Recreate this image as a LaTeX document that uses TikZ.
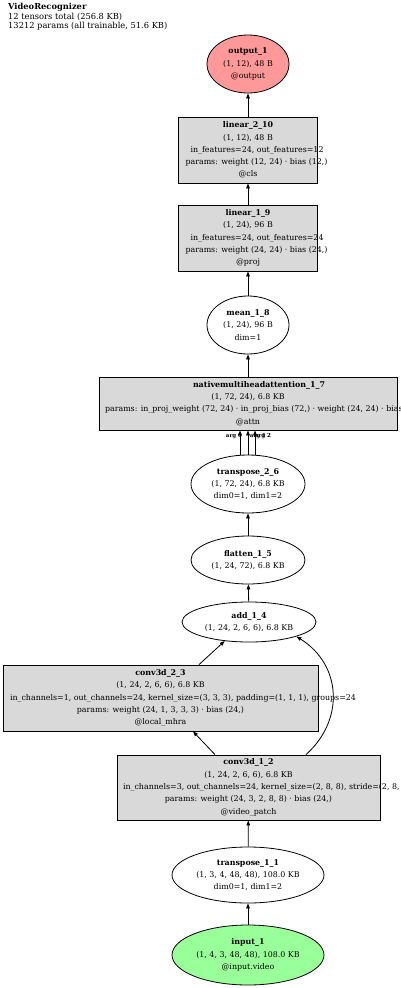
\documentclass[tikz,border=0pt]{standalone}
\usepackage{fontspec}
\setmainfont{DejaVu Serif}
\usetikzlibrary{arrows.meta,shapes.geometric}
\definecolor{outpink}{RGB}{255,153,153}
\definecolor{ingreen}{RGB}{153,255,153}
\definecolor{opgray}{RGB}{217,217,217}
\newcommand\spill[2]{\makebox[0pt][l]{\hspace*{-#1pt}#2}}

\begin{document}
\begin{tikzpicture}[x = 1pt, y = -1pt,
    font = \fontsize{7.9}{12.3}\selectfont,
    every label/.style = {align = center},
    oval/.style = {ellipse, draw, line width = .8pt, inner sep = 0pt},
    opbox/.style = {rectangle, draw, fill = opgray, line width = .8pt, inner sep = 0pt},
    flow/.style = {-{Triangle[length = 5pt, width = 3.6pt]}, line width = .8pt},
    argtag/.style = {font = \fontsize{5.5}{6}\selectfont\bfseries, inner sep = 0pt}]
  \clip (0,0) rectangle (400,988);
  \node [anchor = north west, align = left, inner sep = 0pt,
         font = \fontsize{8.3}{9.6}\selectfont] (title) at (8,3)
    {\textbf{VideoRecognizer}\\12 tensors total (256.8 KB)\\13212 params (all trainable, 51.6 KB)};

  % graph nodes, top to bottom
  \node [oval, fill = outpink, minimum width = 82pt, minimum height = 58pt,
         label = center:{\textbf{output\_1}\\(1, 12), 48 B\\@output}] (out1) at (248,64) {};
  \node [opbox, minimum width = 139pt, minimum height = 66pt,
         label = center:{\textbf{linear\_2\_10}\\(1, 12), 48 B\\
           \spill{57.5}{in\_features=24, out\_features=12}\\
           \spill{62.5}{params: weight (12, 24) · bias (12,)}\\@cls}] (lin210) at (248,150) {};
  \node [opbox, minimum width = 139pt, minimum height = 66pt,
         label = center:{\textbf{linear\_1\_9}\\(1, 24), 96 B\\
           \spill{57.5}{in\_features=24, out\_features=24}\\
           \spill{62.5}{params: weight (24, 24) · bias (24,)}\\@proj}] (lin19) at (248,238) {};
  \node [oval, minimum width = 82pt, minimum height = 58pt,
         label = center:{\textbf{mean\_1\_8}\\(1, 24), 96 B\\dim=1}] (mean18) at (248,325) {};
  \node [opbox, minimum width = 298pt, minimum height = 53pt,
         label = center:{\spill{55}{\textbf{nativemultiheadattention\_1\_7}}\\(1, 72, 24), 6.8 KB\\
           \spill{143}{params: in\_proj\_weight (72, 24) · in\_proj\_bias (72,) · weight (24, 24) · bias (24,)}\\@attn}]
    (mha17) at (248,403.5) {};
  \node [oval, minimum width = 114pt, minimum height = 58pt,
         label = center:{\textbf{transpose\_2\_6}\\(1, 72, 24), 6.8 KB\\dim0=1, dim1=2}] (tr26) at (248,484) {};
  \node [oval, minimum width = 114pt, minimum height = 48pt,
         label = center:{\textbf{flatten\_1\_5}\\(1, 24, 72), 6.8 KB}] (fl15) at (248,560) {};
  \node [oval, minimum width = 134pt, minimum height = 40pt,
         label = center:{\textbf{add\_1\_4}\\(1, 24, 2, 6, 6), 6.8 KB}] (add14) at (249,622) {};
  \node [opbox, minimum width = 315pt, minimum height = 66pt,
         label = center:{\textbf{conv3d\_2\_3}\\(1, 24, 2, 6, 6), 6.8 KB\\
           \spill{150.5}{in\_channels=1, out\_channels=24, kernel\_size=(3, 3, 3), padding=(1, 1, 1), groups=24}\\
           params: weight (24, 1, 3, 3, 3) · bias (24,)\\@local\_mhra}] (cv23) at (160.5,698) {};
  \node [opbox, minimum width = 263pt, minimum height = 65pt,
         label = center:{\textbf{conv3d\_1\_2}\\(1, 24, 2, 6, 6), 6.8 KB\\
           \spill{125.5}{in\_channels=3, out\_channels=24, kernel\_size=(2, 8, 8), stride=(2, 8, 8)}\\
           params: weight (24, 3, 2, 8, 8) · bias (24,)\\@video\_patch}] (cv12) at (248.5,787.5) {};
  \node [oval, minimum width = 152pt, minimum height = 56pt,
         label = center:{\textbf{transpose\_1\_1}\\(1, 3, 4, 48, 48), 108.0 KB\\dim0=1, dim1=2}] (tr11) at (248,875) {};
  \node [oval, fill = ingreen, minimum width = 152pt, minimum height = 60pt,
         label = center:{\textbf{input\_1}\\(1, 4, 3, 48, 48), 108.0 KB\\@input.video}] (in1) at (248,955) {};

  % data flow
  \draw [flow] (in1) -- (tr11);
  \draw [flow] (tr11) -- (cv12);
  \draw [flow] ([xshift = -33.5pt]cv12.north) -- ([xshift = 32.5pt]cv23.south);
  \draw [flow] ([xshift = 38.5pt]cv23.north) -- (add14.218);
  \draw [flow] ([xshift = 57.5pt]cv12.north) .. controls +(39,-35) and +(45,28) .. (add14.343);
  \draw [flow] (add14) -- (fl15);
  \draw [flow] (fl15) -- (tr26);
  \foreach \dx/\lx/\lab in {-8/-6/0, 0/10/1, 7/8/2}
    \draw [flow] ([xshift = \dx pt]tr26.north) -- ([xshift = \dx pt]mha17.south)
      node [argtag, at end, xshift = \lx pt, yshift = -6pt] {arg \lab};
  \draw [flow] (mha17) -- (mean18);
  \draw [flow] (mean18) -- (lin19);
  \draw [flow] (lin19) -- (lin210);
  \draw [flow] (lin210) -- (out1);
\end{tikzpicture}
\end{document}
